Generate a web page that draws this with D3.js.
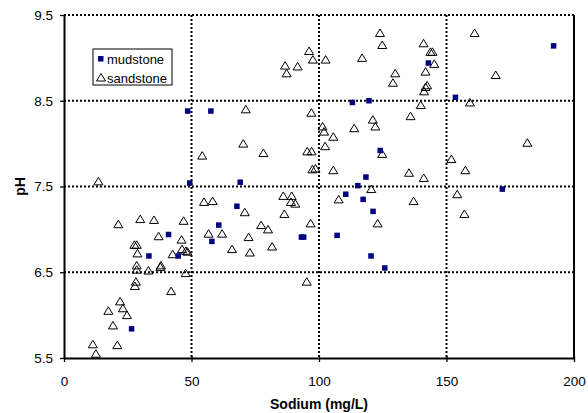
<!DOCTYPE html>
<html>
<head>
<meta charset="utf-8">
<script src="https://cdn.jsdelivr.net/npm/d3@7"></script>
<style>
  body { margin: 0; background: #fff; }
  svg { font-family: "Liberation Sans", Arial, sans-serif; }
</style>
</head>
<body>
<div id="chart"></div>
<script>
// values
const mudstoneNa = [48.5, 49.3, 41.0, 33.3, 44.8, 26.5, 57.6, 113.1, 119.6, 124.0, 118.4, 115.2, 110.5, 117.3,
  121.2, 107.1, 120.4, 125.8, 69.1, 67.8, 60.7, 58.0, 93.1, 94.0, 142.9, 153.5, 192.0, 171.9];
const mudstonePH = [8.38, 7.54, 6.94, 6.69, 6.69, 5.84, 8.38, 8.48, 8.50, 7.92, 7.61, 7.51, 7.41, 7.35,
  7.21, 6.93, 6.69, 6.55, 7.55, 7.27, 7.05, 6.86, 6.91, 6.91, 8.94, 8.54, 9.14, 7.47];

const sandstoneNa = [13.5, 21.3, 29.9, 35.3, 46.9, 37.1, 46.1, 27.6, 28.5, 28.8, 42.6, 46.3, 47.8, 48.4,
  28.5, 28.5, 33.1, 38.0, 37.8, 47.7, 28.2, 27.8, 42.0, 22.0, 17.4, 23.1, 24.7, 19.2, 20.9, 11.3, 12.5,
  123.9, 124.8, 116.9, 102.6, 96.1, 97.6, 86.7, 91.6, 87.3, 71.3, 97.0, 121.1, 122.1, 113.8, 101.4, 102.0, 105.6,
  70.3, 54.2, 78.2, 95.4, 97.1, 102.4, 124.8, 97.4, 98.6, 105.6, 120.5, 107.7, 123.0, 54.9, 58.3, 70.9,
  86.0, 89.3, 89.0, 90.7, 86.4, 77.3, 80.0, 96.7, 56.7, 62.0, 72.4, 65.9, 72.9, 81.6, 95.2,
  161.0, 141.0, 143.7, 144.5, 145.2, 141.8, 129.9, 129.0, 142.4, 141.8, 141.2, 139.9, 135.9, 159.2, 169.3,
  181.7, 151.9, 157.4, 135.3, 141.1, 154.2, 137.1, 157.0];
const sandstonePH = [7.56, 7.06, 7.12, 7.11, 7.10, 6.92, 6.88, 6.82, 6.82, 6.72, 6.71, 6.77, 6.75, 6.74,
  6.58, 6.53, 6.52, 6.58, 6.56, 6.49, 6.39, 6.34, 6.28, 6.16, 6.05, 6.08, 6.00, 5.88, 5.65, 5.66, 5.55,
  9.29, 9.15, 9.00, 8.98, 9.08, 8.98, 8.91, 8.90, 8.82, 8.40, 8.36, 8.28, 8.20, 8.18, 8.20, 8.14, 8.08,
  8.00, 7.86, 7.89, 7.91, 7.91, 7.97, 7.88, 7.70, 7.71, 7.69, 7.47, 7.35, 7.07, 7.32, 7.33, 7.20,
  7.39, 7.39, 7.32, 7.30, 7.18, 7.05, 7.00, 7.07, 6.95, 6.95, 6.91, 6.77, 6.73, 6.80, 6.39,
  9.29, 9.17, 9.07, 9.07, 8.93, 8.84, 8.82, 8.71, 8.68, 8.66, 8.61, 8.45, 8.32, 8.48, 8.80,
  8.01, 7.82, 7.69, 7.66, 7.60, 7.41, 7.33, 7.18];

const xTicks = [0, 50, 100, 150, 200];
const yTicks = [5.5, 6.5, 7.5, 8.5, 9.5];
const seriesNames = ["mudstone", "sandstone"];

const width = 588, height = 413;
const margin = { top: 15, right: 14, bottom: 55, left: 64 };
const plotW = width - margin.left - margin.right;
const plotH = height - margin.top - margin.bottom;

const svg = d3.select("#chart").append("svg")
  .attr("width", width)
  .attr("height", height);

const plot = svg.append("g")
  .attr("transform", `translate(${margin.left},${margin.top})`);

const x = d3.scaleLinear().domain([0, 200]).range([0, plotW]);
const y = d3.scaleLinear().domain([5.5, 9.5]).range([plotH, 0]);

// dotted gridlines
plot.append("g")
  .selectAll("line")
  .data(xTicks.slice(1, -1))
  .join("line")
    .attr("x1", d => x(d)).attr("x2", d => x(d))
    .attr("y1", 0).attr("y2", plotH)
    .attr("stroke", "#000").attr("stroke-width", 2)
    .attr("stroke-dasharray", "2,2");

plot.append("g")
  .selectAll("line")
  .data(yTicks.slice(1))
  .join("line")
    .attr("x1", 0).attr("x2", plotW)
    .attr("y1", d => y(d)).attr("y2", d => y(d))
    .attr("stroke", "#000").attr("stroke-width", 2)
    .attr("stroke-dasharray", "2,2");

// right border of plot area
plot.append("line")
  .attr("x1", plotW).attr("x2", plotW)
  .attr("y1", 0).attr("y2", plotH)
  .attr("stroke", "#000").attr("stroke-width", 2);

// axes
const xAxis = plot.append("g")
  .attr("transform", `translate(0,${plotH})`)
  .call(d3.axisBottom(x).tickValues(xTicks).tickSize(4).tickSizeOuter(0).tickPadding(14));
xAxis.selectAll(".tick line").attr("y1", -2);

const yAxis = plot.append("g")
  .call(d3.axisLeft(y).tickValues(yTicks).tickFormat(d3.format(".1f")).tickSize(4).tickSizeOuter(0).tickPadding(7));

[xAxis, yAxis].forEach(a => {
  a.select(".domain").attr("stroke", "#000").attr("stroke-width", 2);
  a.selectAll(".tick line").attr("stroke", "#000").attr("stroke-width", 1.3);
  a.selectAll("text").attr("font-size", 13.5).attr("fill", "#000")
    .attr("font-family", "Liberation Sans, Arial, sans-serif");
});

// markers
const triPath = "M0,-4L4.5,3.5L-4.5,3.5Z";

plot.append("g")
  .selectAll("path")
  .data(d3.zip(sandstoneNa, sandstonePH))
  .join("path")
    .attr("d", triPath)
    .attr("transform", d => `translate(${x(d[0])},${y(d[1])})`)
    .attr("fill", "none")
    .attr("stroke", "#000")
    .attr("stroke-width", 1);

plot.append("g")
  .selectAll("rect")
  .data(d3.zip(mudstoneNa, mudstonePH))
  .join("rect")
    .attr("x", d => x(d[0]) - 2.75)
    .attr("y", d => y(d[1]) - 2.75)
    .attr("width", 5.5).attr("height", 5.5)
    .attr("fill", "#000080");

// axis titles
svg.append("text")
  .attr("x", margin.left + plotW / 2)
  .attr("y", 409)
  .attr("text-anchor", "middle")
  .attr("font-size", 14)
  .attr("font-weight", "bold")
  .text("Sodium (mg/L)");

svg.append("text")
  .attr("transform", `translate(25,${margin.top + plotH / 2}) rotate(-90)`)
  .attr("text-anchor", "middle")
  .attr("font-size", 14)
  .attr("font-weight", "bold")
  .text("pH");

// legend
const legend = svg.append("g").attr("transform", "translate(93,49)");
legend.append("rect")
  .attr("width", 79).attr("height", 36)
  .attr("fill", "#fff").attr("stroke", "#000").attr("stroke-width", 1);

legend.append("rect")
  .attr("x", 5).attr("y", 7).attr("width", 5.5).attr("height", 5.5)
  .attr("fill", "#000080");
legend.append("path")
  .attr("d", triPath)
  .attr("transform", "translate(8,28.5)")
  .attr("fill", "none").attr("stroke", "#000");

legend.selectAll("text")
  .data(seriesNames)
  .join("text")
    .attr("x", 14)
    .attr("y", (d, i) => 14.5 + i * 19)
    .attr("font-size", 13)
    .text(d => d);
</script>
</body>
</html>
